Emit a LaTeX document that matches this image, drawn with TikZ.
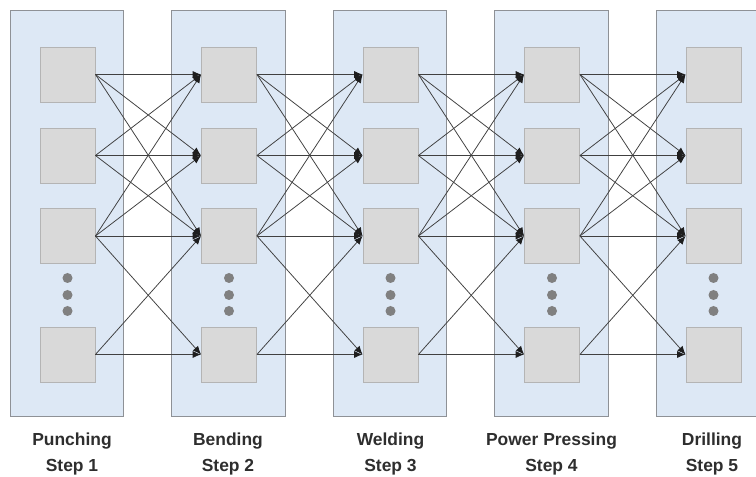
\documentclass[tikz,border=0pt]{standalone}
\usepackage{fontspec}
\setmainfont{Liberation Sans}
\usetikzlibrary{arrows.meta}

\definecolor{colfill}{HTML}{DDE8F5}
\definecolor{coldraw}{HTML}{8E9196}
\definecolor{boxfill}{HTML}{D9D9D9}
\definecolor{boxdraw}{HTML}{B4B4B4}
\definecolor{linkcol}{HTML}{404040}
\definecolor{tipcol}{HTML}{1E1E1E}
\definecolor{dotcol}{HTML}{808080}
\definecolor{labelcol}{HTML}{2E2E2E}

\begin{document}
\begin{tikzpicture}
    [
      x=0.025cm,y=-0.025cm,
      column/.style={draw=coldraw,fill=colfill,line width=0.6pt},
      station/.style={draw=boxdraw,fill=boxfill,rectangle,minimum size=1.375cm,
        inner sep=0pt,line width=0.6pt},
      ellipsis/.style={fill=dotcol,circle,minimum size=0.25cm,inner sep=0pt},
      link/.style={-{Latex[length=6pt,width=5pt,color=tipcol]},draw=linkcol,
        line width=0.55pt},
      steplabel/.style={anchor=base,text=labelcol,
        font=\bfseries\fontsize{12.4}{14}\selectfont}
    ]

    \useasboundingbox (0,0) rectangle (756,477);
    \clip (0,0) rectangle (756,477);

    % process columns
    \foreach \k in {0,...,4}
      \draw [column] ({10.3+161.5*\k},10) rectangle +(113.5,406);

    % stations and the dots between them
    \foreach \k in {1,...,5} {
      \foreach \r/\y in {1/74.5,2/155.5,3/236,4/354.5}
        \node at ({67.5+161.5*(\k-1)},\y) [station] (s\k-\r) {};
      \foreach \d/\y in {1/278,2/295,3/311}
        \node at ({67.5+161.5*(\k-1)},\y) [ellipsis] (dot\k-\d) {};
    }

    % links between neighbouring steps
    \foreach \k [evaluate=\k as \n using int(\k+1)] in {1,...,4}
      \foreach \a/\b in {1/1,1/2,1/3,2/1,2/2,2/3,3/1,3/2,3/3,3/4,4/3,4/4}
        \draw [link] (s\k-\a.east) -- (s\n-\b.west);

    \node at (72,446) [steplabel] (name1) {Punching};
    \node at (72,472) [steplabel] (step1) {Step 1};
    \node at (228,446) [steplabel] (name2) {Bending};
    \node at (228,472) [steplabel] (step2) {Step 2};
    \node at (390.5,446) [steplabel] (name3) {Welding};
    \node at (390.5,472) [steplabel] (step3) {Step 3};
    \node at (551.5,446) [steplabel] (name4) {Power Pressing};
    \node at (551.5,472) [steplabel] (step4) {Step 4};
    \node at (712,446) [steplabel] (name5) {Drilling};
    \node at (712,472) [steplabel] (step5) {Step 5};
  \end{tikzpicture}
\end{document}
